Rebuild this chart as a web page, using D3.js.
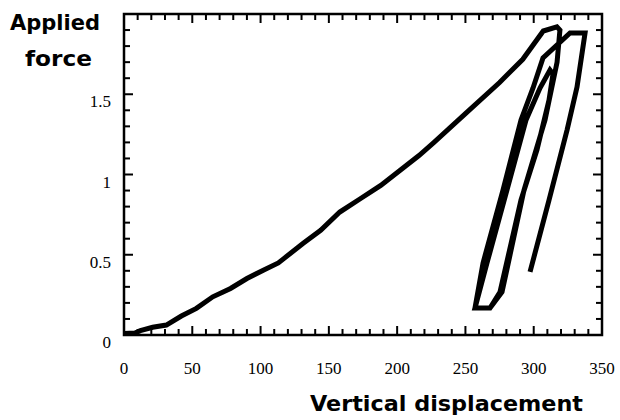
<!DOCTYPE html>
<html>
<head>
<meta charset="utf-8">
<script src="https://cdn.jsdelivr.net/npm/d3@7"></script>
<style>
  body { margin: 0; background: #fff; }
  .lbl { font-family: "Liberation Serif", "Times New Roman", serif; font-size: 17px; fill: #000; }
  .title { font-family: "DejaVu Sans", Arial, sans-serif; font-weight: bold; font-size: 21px; fill: #000; }
</style>
</head>
<body>
<div id="chart"></div>
<script>
// loading, three unload/reload cycles, final unload
const displacement = [
    0, 8, 12, 21, 31, 42, 53, 65, 78, 90, 102, 113, 117, 131, 144, 158, 173, 188, 202, 216, 227, 251, 275, 292, 307, 317, 319.2,
    317.1, 308.3, 292.9, 276.8, 268, 257,
    265.8, 280.4, 294.4, 304.6, 311.9,
    314.1, 311.2, 302.4, 290.7, 275.3, 268, 257,
    262.9, 277.5, 290.7, 299.5, 306.8, 326.6, 337.6,
    331.7, 324.4, 311.2, 297.3
]
const force = [
    0.01, 0.012, 0.027, 0.048, 0.062, 0.118, 0.166, 0.238, 0.29, 0.352, 0.404, 0.449, 0.476, 0.57, 0.652, 0.766, 0.849, 0.932, 1.025, 1.118, 1.2, 1.387, 1.573, 1.718, 1.894, 1.92, 1.9,
    1.7, 1.34, 0.903, 0.268, 0.168, 0.168,
    0.449, 0.903, 1.34, 1.539, 1.651,
    1.626, 1.464, 1.153, 0.841, 0.268, 0.168, 0.168,
    0.449, 0.903, 1.34, 1.539, 1.726, 1.882, 1.882,
    1.545, 1.277, 0.841, 0.393
]
const xTicks = [0, 50, 100, 150, 200, 250, 300, 350]
const yTicks = [0, 0.5, 1, 1.5]
const xMinorStep = 10
const yMinorStep = 0.1

let margin = { top: 14, right: 18, bottom: 85, left: 124 }
let width = 620 - margin.left - margin.right
let height = 420 - margin.top - margin.bottom

let x = d3.scaleLinear().domain([0, 350]).range([0, width])
let y = d3.scaleLinear().domain([0, 2]).range([height, 0])

let svg = d3.select('#chart')
    .append('svg')
    .attr('width', 620)
    .attr('height', 420)

let g = svg.append('g')
    .attr('transform', `translate(${margin.left}, ${margin.top})`)

g.append('rect')
    .attr('width', width)
    .attr('height', height)
    .attr('fill', 'none')
    .attr('stroke', '#000')
    .attr('stroke-width', 2.5)

// tick marks pointing inward on all four sides
let xAll = d3.range(0, 35.5).map(i => i * xMinorStep)
let yAll = d3.range(0, 20.5).map(i => +(i * yMinorStep).toFixed(1))
let xLen = d => d % 50 === 0 ? 9 : 6
let yLen = d => Math.round(d * 10) % 5 === 0 ? 9 : 6

let tickG = g.append('g')
tickG.selectAll('line.xb')
    .data(xAll)
    .join('line')
    .attr('class', 'xb')
    .attr('x1', d => x(d)).attr('x2', d => x(d))
    .attr('y1', height).attr('y2', d => height - xLen(d))
tickG.selectAll('line.xt')
    .data(xAll)
    .join('line')
    .attr('class', 'xt')
    .attr('x1', d => x(d)).attr('x2', d => x(d))
    .attr('y1', 0).attr('y2', d => xLen(d))
tickG.selectAll('line.yl')
    .data(yAll)
    .join('line')
    .attr('class', 'yl')
    .attr('y1', d => y(d)).attr('y2', d => y(d))
    .attr('x1', 0).attr('x2', d => yLen(d))
tickG.selectAll('line.yr')
    .data(yAll)
    .join('line')
    .attr('class', 'yr')
    .attr('y1', d => y(d)).attr('y2', d => y(d))
    .attr('x1', width).attr('x2', d => width - yLen(d))
tickG.selectAll('line')
    .style('stroke', '#000').style('stroke-width', '2px')

g.selectAll('.xlabel').data(xTicks).enter().append('text')
    .attr('class', 'lbl')
    .attr('x', d => x(d))
    .attr('y', height + 39)
    .attr('text-anchor', 'middle')
    .text(d => d)

g.selectAll('.ylabel').data(yTicks).enter().append('text')
    .attr('class', 'lbl')
    .attr('x', -13)
    .attr('y', d => y(d) + 13)
    .attr('text-anchor', 'end')
    .text(d => d3.format('')(d))

let line = d3.line()
    .x(i => x(displacement[i]))
    .y(i => y(force[i]))

g.append('path')
    .datum(d3.range(displacement.length))
    .attr('d', line)
    .attr('fill', 'none')
    .attr('stroke', '#000')
    .attr('stroke-width', 5)
    .attr('stroke-linejoin', 'miter')

svg.append('text')
    .attr('class', 'title')
    .attr('x', 10).attr('y', 30)
    .attr('textLength', 90).attr('lengthAdjust', 'spacingAndGlyphs')
    .text('Applied')

svg.append('text')
    .attr('class', 'title')
    .attr('x', 25).attr('y', 66)
    .attr('textLength', 67).attr('lengthAdjust', 'spacingAndGlyphs')
    .text('force')

svg.append('text')
    .attr('class', 'title')
    .attr('x', 310).attr('y', 411)
    .attr('textLength', 273).attr('lengthAdjust', 'spacingAndGlyphs')
    .text('Vertical displacement')
</script>
</body>
</html>
